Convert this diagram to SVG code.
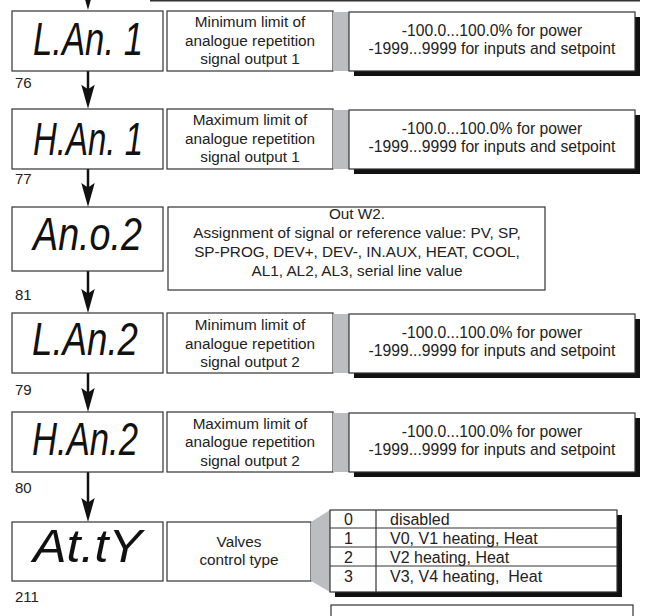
<svg xmlns="http://www.w3.org/2000/svg" xmlns:xlink="http://www.w3.org/1999/xlink" width="647" height="616" viewBox="0 0 647 616">
<style>
.box{fill:#fff;stroke:#333;stroke-width:1.2}
.shadow{fill:#111}
.bar{fill:#bcbdc0}
.seg{font-family:"Liberation Sans",Arial,sans-serif;font-style:italic;font-size:46px;fill:#111}
.t{font-family:"Liberation Sans",Arial,sans-serif;font-size:15.3px;fill:#222;text-anchor:middle}
.v{font-family:"Liberation Sans",Arial,sans-serif;font-size:15.7px;fill:#222;text-anchor:middle}
.tl{font-family:"Liberation Sans",Arial,sans-serif;font-size:16px;fill:#222}
.num{font-family:"Liberation Sans",Arial,sans-serif;font-size:15px;fill:#222}
.shaft{stroke:#111;stroke-width:2.5;fill:none}
.rule{stroke:#333;stroke-width:1.2}
</style>
<defs>
<path id="head" d="M0,0 L-6.7,-24 L0,-19.5 L6.7,-24 Z" fill="#111"/>
</defs>

<line x1="150" y1="0.8" x2="640" y2="0.8" stroke="#333" stroke-width="1.6"/>

<g id="connectors">
<line class="shaft" x1="88" y1="-10" x2="88" y2="4"/>
<use xlink:href="#head" x="88" y="10"/>
<line class="shaft" x1="88" y1="71" x2="88" y2="100"/>
<use xlink:href="#head" x="88" y="108.7"/>
<line class="shaft" x1="88" y1="169" x2="88" y2="198"/>
<use xlink:href="#head" x="88" y="207"/>
<line class="shaft" x1="88" y1="271" x2="88" y2="304"/>
<use xlink:href="#head" x="88" y="313"/>
<line class="shaft" x1="88" y1="373" x2="88" y2="403"/>
<use xlink:href="#head" x="88" y="412"/>
<line class="shaft" x1="88" y1="472" x2="88" y2="513"/>
<use xlink:href="#head" x="88" y="522"/>
</g>

<g id="node-76">
<rect class="box" x="12" y="11" width="151" height="60"/>
<text class="seg" x="33" y="55" textLength="110" lengthAdjust="spacingAndGlyphs">L.An. 1</text>
<rect class="box" x="167" y="11" width="166" height="60"/>
<text class="t" x="250" y="27">Minimum limit of</text>
<text class="t" x="250" y="45.5">analogue repetition</text>
<text class="t" x="250" y="64">signal output 1</text>
<rect class="bar" x="333" y="12" width="16" height="59"/>
<rect class="shadow" x="354" y="17" width="286" height="59"/>
<rect class="box" x="349" y="12" width="286" height="59"/>
<text class="v" x="492" y="36">-100.0...100.0% for power</text>
<text class="v" x="492" y="53.5">-1999...9999 for inputs and setpoint</text>
<text class="num" x="15" y="88">76</text>
</g>

<g id="node-77">
<rect class="box" x="12" y="109" width="151" height="60"/>
<text class="seg" x="33" y="155" textLength="110" lengthAdjust="spacingAndGlyphs">H.An. 1</text>
<rect class="box" x="167" y="109" width="166" height="60"/>
<text class="t" x="250" y="125">Maximum limit of</text>
<text class="t" x="250" y="143.5">analogue repetition</text>
<text class="t" x="250" y="162">signal output 1</text>
<rect class="bar" x="333" y="110" width="16" height="59"/>
<rect class="shadow" x="354" y="115" width="286" height="59"/>
<rect class="box" x="349" y="110" width="286" height="59"/>
<text class="v" x="492" y="134">-100.0...100.0% for power</text>
<text class="v" x="492" y="151.5">-1999...9999 for inputs and setpoint</text>
<text class="num" x="15" y="184">77</text>
</g>

<g id="node-81">
<rect class="box" x="12" y="207" width="151" height="64"/>
<text class="seg" x="33" y="250" textLength="109" lengthAdjust="spacingAndGlyphs">An.o.2</text>
<rect class="box" x="168" y="207" width="377" height="83"/>
<text class="t" x="357" y="219">Out W2.</text>
<text class="t" x="357" y="238">Assignment of signal or reference value: PV, SP,</text>
<text class="t" x="357" y="257">SP-PROG, DEV+, DEV-, IN.AUX, HEAT, COOL,</text>
<text class="t" x="357" y="276">AL1, AL2, AL3, serial line value</text>
<text class="num" x="15" y="300">81</text>
</g>

<g id="node-79">
<rect class="box" x="12" y="313" width="151" height="60"/>
<text class="seg" x="32" y="355" textLength="106" lengthAdjust="spacingAndGlyphs">L.An.2</text>
<rect class="box" x="167" y="313" width="166" height="60"/>
<text class="t" x="250" y="330">Minimum limit of</text>
<text class="t" x="250" y="348.5">analogue repetition</text>
<text class="t" x="250" y="367">signal output 2</text>
<rect class="bar" x="333" y="314" width="16" height="59"/>
<rect class="shadow" x="354" y="319" width="286" height="59"/>
<rect class="box" x="349" y="314" width="286" height="59"/>
<text class="v" x="492" y="338">-100.0...100.0% for power</text>
<text class="v" x="492" y="355.5">-1999...9999 for inputs and setpoint</text>
<text class="num" x="15" y="395">79</text>
</g>

<g id="node-80">
<rect class="box" x="12" y="412" width="151" height="60"/>
<text class="seg" x="32" y="455" textLength="106" lengthAdjust="spacingAndGlyphs">H.An.2</text>
<rect class="box" x="167" y="412" width="166" height="60"/>
<text class="t" x="250" y="428.5">Maximum limit of</text>
<text class="t" x="250" y="447">analogue repetition</text>
<text class="t" x="250" y="465.5">signal output 2</text>
<rect class="bar" x="333" y="413" width="16" height="59"/>
<rect class="shadow" x="354" y="418" width="286" height="59"/>
<rect class="box" x="349" y="413" width="286" height="59"/>
<text class="v" x="492" y="437">-100.0...100.0% for power</text>
<text class="v" x="492" y="454.5">-1999...9999 for inputs and setpoint</text>
<text class="num" x="15" y="493">80</text>
</g>

<g id="node-211">
<rect class="box" x="12" y="522" width="151" height="59"/>
<text class="seg" x="33" y="562" textLength="109" lengthAdjust="spacingAndGlyphs">At.tY</text>
<rect class="box" x="167" y="522" width="144" height="59"/>
<text class="t" x="239" y="547">Valves</text>
<text class="t" x="239" y="564.5">control type</text>
<polygon class="bar" points="311,522 330,510 330,592 311,581"/>
<rect class="shadow" x="335" y="515" width="287" height="82"/>
<rect class="box" x="330" y="510" width="287" height="82"/>
<line class="rule" x1="330" y1="528" x2="617" y2="528"/>
<line class="rule" x1="330" y1="547" x2="617" y2="547"/>
<line class="rule" x1="330" y1="566" x2="617" y2="566"/>
<line class="rule" x1="376" y1="510" x2="376" y2="592"/>
<text class="tl" x="344" y="525">0</text>
<text class="tl" x="390" y="525">disabled</text>
<text class="tl" x="344" y="544">1</text>
<text class="tl" x="390" y="544">V0, V1 heating, Heat</text>
<text class="tl" x="344" y="563">2</text>
<text class="tl" x="390" y="563">V2 heating, Heat</text>
<text class="tl" x="344" y="582">3</text>
<text class="tl" x="390" y="582" xml:space="preserve">V3, V4 heating,  Heat</text>
<text class="num" x="15" y="602">211</text>
<rect class="box" x="331" y="605" width="302" height="30"/>
</g>
</svg>
